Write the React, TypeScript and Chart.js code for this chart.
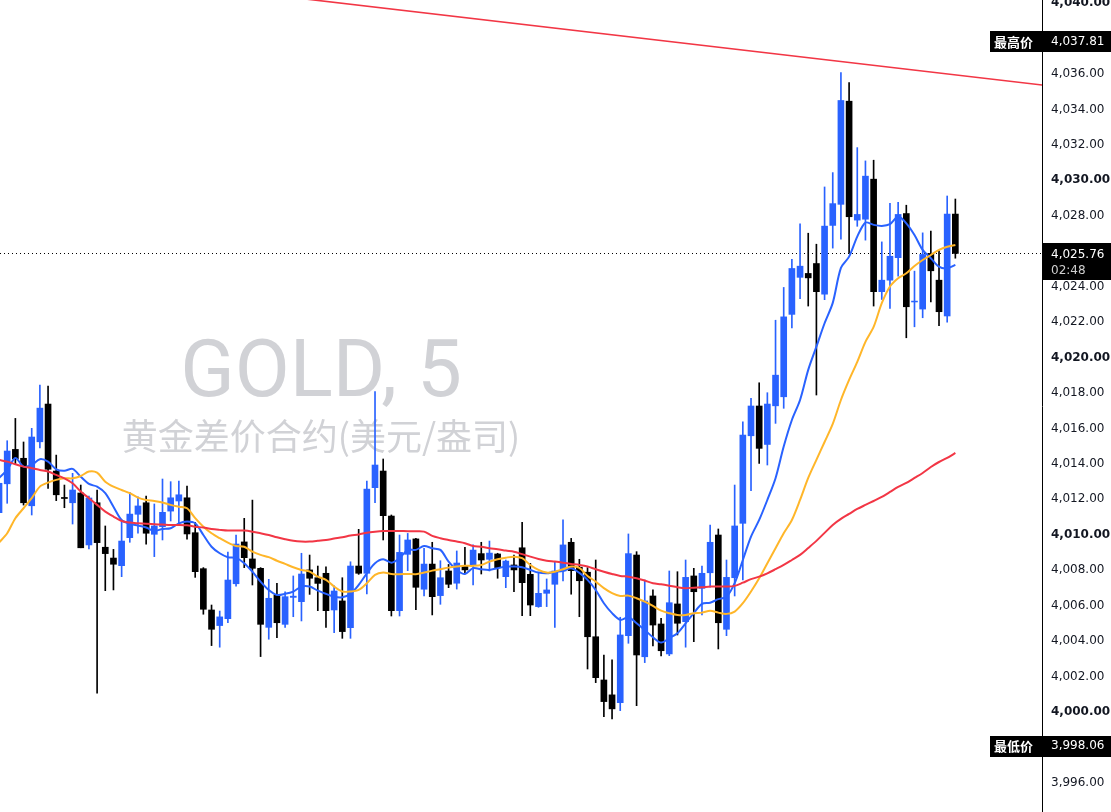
import React, { useEffect, useRef } from "react";
import { Chart, registerables } from "chart.js";

Chart.register(...registerables);

// ---- OHLC (5-minute candles, oldest first) ----
const opens = [
  4011.13, 4012.76, 4014.70, 4014.20, 4011.52, 4015.13, 4017.26, 4013.48, 4011.99, 4011.69,
  4012.24, 4009.31, 4011.69, 4009.18, 4008.57, 4008.14, 4009.72, 4011.04, 4011.69, 4009.91,
  4010.34, 4011.22, 4011.79, 4011.97, 4010.00, 4007.97, 4005.64, 4004.76, 4005.15, 4007.12,
  4009.48, 4008.52, 4007.99, 4004.66, 4006.49, 4004.83, 4006.35, 4006.11, 4007.90, 4007.46,
  4007.71, 4005.64, 4006.15, 4004.64, 4008.12, 4007.71, 4012.54, 4013.48, 4010.94, 4005.60,
  4008.78, 4009.65, 4006.81, 4008.23, 4006.45, 4007.84, 4007.15, 4008.12, 4008.14, 4008.82,
  4008.50, 4008.80, 4007.52, 4008.18, 4009.15, 4007.65, 4005.83, 4006.58, 4007.09, 4007.84,
  4009.46, 4008.05, 4007.77, 4004.13, 4001.69, 4000.85, 4000.41, 4004.19, 4008.74, 4003.00,
  4006.43, 4004.85, 4003.16, 4005.98, 4004.98, 4007.56, 4006.86, 4007.74, 4009.87, 4004.55,
  4007.46, 4010.53, 4015.47, 4017.15, 4014.98, 4017.16, 4017.67, 4022.32, 4024.41, 4024.63,
  4025.19, 4023.46, 4027.34, 4028.53, 4034.35, 4027.64, 4027.69, 4029.95, 4023.60, 4024.25,
  4025.52, 4028.01, 4023.02, 4022.62, 4025.76, 4024.25, 4022.23, 4027.98,
];
const highs = [
  4013.50, 4015.19, 4016.45, 4015.12, 4015.89, 4018.33, 4018.27, 4014.38, 4012.69, 4013.35,
  4012.69, 4012.07, 4012.41, 4010.38, 4009.06, 4010.62, 4012.28, 4012.03, 4012.07, 4011.62,
  4013.03, 4012.88, 4012.92, 4012.63, 4010.58, 4008.03, 4005.92, 4005.58, 4008.91, 4009.87,
  4010.81, 4011.84, 4008.03, 4007.37, 4007.15, 4006.67, 4007.56, 4008.84, 4008.74, 4008.12,
  4008.08, 4007.00, 4007.46, 4008.36, 4010.19, 4012.92, 4017.96, 4014.16, 4011.00, 4009.87,
  4009.96, 4009.68, 4009.12, 4009.46, 4008.42, 4008.21, 4008.97, 4009.18, 4009.31, 4009.46,
  4009.53, 4008.84, 4008.46, 4008.74, 4010.59, 4008.27, 4007.71, 4007.39, 4008.36, 4010.72,
  4009.68, 4008.50, 4008.03, 4008.46, 4003.10, 4002.82, 4005.23, 4009.93, 4008.93, 4007.33,
  4006.77, 4005.17, 4007.84, 4007.80, 4008.46, 4007.99, 4008.12, 4010.43, 4010.21, 4008.46,
  4012.69, 4016.26, 4017.58, 4018.46, 4017.90, 4021.99, 4023.84, 4025.42, 4027.43, 4026.90,
  4026.28, 4029.51, 4030.32, 4035.96, 4035.40, 4031.73, 4030.98, 4031.02, 4026.41, 4028.58,
  4028.64, 4028.48, 4024.76, 4026.92, 4027.02, 4025.91, 4029.00, 4028.83,
];
const lows = [
  4010.80, 4011.66, 4013.87, 4011.56, 4011.00, 4014.79, 4012.50, 4011.81, 4011.41, 4010.49,
  4009.15, 4009.08, 4000.94, 4006.73, 4006.77, 4007.52, 4009.46, 4009.97, 4009.35, 4008.65,
  4009.59, 4010.66, 4010.47, 4009.64, 4007.48, 4005.40, 4003.63, 4003.54, 4004.92, 4006.99,
  4008.03, 4007.05, 4003.01, 4003.99, 4004.08, 4004.66, 4005.26, 4005.02, 4006.52, 4005.60,
  4004.66, 4004.36, 4004.04, 4004.04, 4007.65, 4006.54, 4011.69, 4009.59, 4005.30, 4005.30,
  4007.86, 4005.66, 4006.43, 4005.36, 4005.96, 4006.90, 4006.82, 4007.67, 4007.05, 4007.67,
  4007.84, 4007.43, 4006.90, 4006.67, 4005.32, 4005.32, 4005.79, 4005.83, 4004.66, 4007.28,
  4006.53, 4005.26, 4002.31, 4001.54, 3999.62, 3999.49, 3999.96, 4003.76, 4000.24, 4002.67,
  4003.61, 4003.05, 4003.06, 4004.23, 4003.54, 4003.85, 4005.36, 4006.92, 4003.44, 4004.19,
  4006.43, 4007.33, 4012.37, 4013.91, 4013.82, 4016.17, 4017.02, 4021.56, 4023.20, 4022.79,
  4017.77, 4023.15, 4026.06, 4026.57, 4025.76, 4027.29, 4026.51, 4022.79, 4023.16, 4022.66,
  4024.48, 4021.00, 4021.62, 4022.13, 4023.03, 4021.68, 4021.88, 4025.49,
];
const closes = [
  4012.79, 4014.61, 4014.17, 4011.69, 4015.40, 4017.03, 4013.58, 4012.14, 4011.93, 4012.41,
  4009.15, 4011.96, 4009.44, 4008.82, 4008.22, 4009.53, 4011.05, 4011.51, 4009.97, 4010.38,
  4011.15, 4011.97, 4012.14, 4009.93, 4007.80, 4005.68, 4004.55, 4005.25, 4007.33, 4009.36,
  4008.59, 4007.99, 4004.83, 4006.30, 4004.92, 4006.39, 4006.42, 4007.67, 4007.43, 4007.14,
  4005.60, 4006.71, 4004.42, 4008.12, 4007.71, 4012.46, 4013.82, 4010.96, 4005.60, 4008.89,
  4009.59, 4006.92, 4008.23, 4006.39, 4007.46, 4007.09, 4008.29, 4007.90, 4009.02, 4008.46,
  4008.85, 4008.03, 4008.40, 4007.90, 4007.18, 4005.92, 4006.58, 4006.77, 4007.84, 4009.31,
  4007.86, 4007.29, 4004.13, 4001.82, 4000.47, 4000.06, 4004.23, 4008.82, 4003.10, 4006.15,
  4004.79, 4003.34, 4006.05, 4004.89, 4007.48, 4006.67, 4007.71, 4009.46, 4004.92, 4007.48,
  4010.38, 4015.51, 4017.15, 4014.76, 4017.26, 4018.89, 4022.18, 4024.91, 4025.04, 4024.38,
  4023.60, 4027.30, 4028.57, 4034.39, 4027.83, 4027.96, 4030.12, 4023.60, 4024.25, 4025.60,
  4027.96, 4022.75, 4023.07, 4025.70, 4024.78, 4022.47, 4027.98, 4025.76,
];

// ---- moving averages ----
const maFast = [
  4013.09, 4013.54, 4014.22, 4013.73, 4013.82, 4014.15, 4014.01, 4013.58, 4013.50, 4013.60,
  4013.16, 4012.75, 4012.60, 4012.23, 4011.47, 4010.72, 4010.50, 4010.40, 4010.29, 4010.10,
  4010.21, 4010.25, 4010.53, 4010.63, 4010.53, 4009.87, 4009.21, 4008.84, 4008.62, 4008.58,
  4008.28, 4007.80, 4007.24, 4006.77, 4006.49, 4006.55, 4006.68, 4006.96, 4006.96, 4006.73,
  4006.55, 4006.39, 4006.36, 4006.55, 4007.05, 4007.71, 4008.28, 4008.50, 4008.31, 4008.56,
  4009.03, 4009.03, 4009.25, 4009.12, 4009.03, 4008.37, 4007.90, 4007.67, 4008.00, 4007.94,
  4007.90, 4008.00, 4008.09, 4008.09, 4008.05, 4007.90, 4007.75, 4007.71, 4007.80, 4007.84,
  4008.00, 4007.73, 4007.34, 4006.77, 4006.02, 4005.46, 4005.08, 4005.23, 4004.89, 4004.51,
  4004.10, 4003.80, 4004.05, 4004.33, 4004.89, 4005.46, 4005.98, 4006.05, 4006.25, 4006.39,
  4007.15, 4008.46, 4009.78, 4010.72, 4011.85, 4013.07, 4014.86, 4016.36, 4017.49, 4019.19,
  4020.50, 4021.82, 4022.97, 4024.94, 4025.58, 4026.71, 4027.50, 4027.37, 4027.31, 4027.41,
  4027.84, 4027.46, 4026.80, 4025.96, 4025.49, 4025.01, 4024.92, 4025.11,
];
const maMid = [
  4009.44, 4009.97, 4010.82, 4011.38, 4011.95, 4012.60, 4012.83, 4012.98, 4013.07, 4013.07,
  4013.20, 4013.45, 4013.39, 4012.88, 4012.60, 4012.41, 4012.23, 4011.98, 4011.85, 4011.79,
  4011.70, 4011.57, 4011.47, 4011.38, 4010.82, 4010.34, 4009.97, 4009.69, 4009.44, 4009.25,
  4009.21, 4008.93, 4008.75, 4008.62, 4008.42, 4008.24, 4008.05, 4007.90, 4007.80, 4007.52,
  4007.34, 4006.96, 4006.68, 4006.68, 4006.77, 4007.15, 4007.62, 4007.75, 4007.67, 4007.66,
  4007.67, 4007.66, 4007.75, 4007.86, 4007.94, 4008.03, 4008.09, 4008.13, 4008.13, 4008.18,
  4008.37, 4008.50, 4008.59, 4008.65, 4008.56, 4008.18, 4007.90, 4007.75, 4007.80, 4007.94,
  4008.09, 4008.01, 4007.56, 4007.24, 4006.87, 4006.59, 4006.43, 4006.45, 4006.30, 4006.11,
  4005.87, 4005.60, 4005.46, 4005.36, 4005.36, 4005.46, 4005.49, 4005.60, 4005.49, 4005.42,
  4005.55, 4006.02, 4006.68, 4007.43, 4008.28, 4009.12, 4009.97, 4010.72, 4011.85, 4013.09,
  4014.11, 4015.12, 4016.14, 4017.49, 4018.62, 4019.64, 4020.77, 4021.61, 4022.95, 4023.89,
  4024.36, 4024.64, 4025.05, 4025.39, 4025.67, 4025.96, 4026.14, 4026.24,
];
const maSlow = [
  4014.11, 4014.01, 4013.86, 4013.73, 4013.64, 4013.54, 4013.45, 4013.26, 4013.07, 4012.79,
  4012.32, 4011.95, 4011.57, 4011.19, 4010.91, 4010.66, 4010.57, 4010.53, 4010.50, 4010.48,
  4010.46, 4010.44, 4010.44, 4010.42, 4010.34, 4010.29, 4010.21, 4010.16, 4010.12, 4010.12,
  4010.12, 4010.06, 4009.97, 4009.87, 4009.74, 4009.63, 4009.54, 4009.50, 4009.50, 4009.54,
  4009.59, 4009.67, 4009.74, 4009.84, 4009.90, 4010.00, 4010.06, 4010.10, 4010.10, 4010.10,
  4010.08, 4010.08, 4010.06, 4009.82, 4009.69, 4009.59, 4009.50, 4009.41, 4009.25, 4009.21,
  4009.12, 4009.07, 4008.99, 4008.93, 4008.79, 4008.65, 4008.52, 4008.42, 4008.37, 4008.31,
  4008.24, 4008.18, 4008.09, 4007.94, 4007.80, 4007.67, 4007.56, 4007.52, 4007.43, 4007.30,
  4007.15, 4007.09, 4007.01, 4006.92, 4006.87, 4006.90, 4006.92, 4006.96, 4006.96, 4006.96,
  4007.00, 4007.18, 4007.38, 4007.52, 4007.71, 4007.94, 4008.18, 4008.46, 4008.75, 4009.14,
  4009.54, 4009.99, 4010.44, 4010.78, 4011.06, 4011.34, 4011.57, 4011.79, 4012.02, 4012.30,
  4012.58, 4012.81, 4013.09, 4013.37, 4013.71, 4013.99, 4014.22, 4014.50,
];

// ---- trend line (two anchor points: candle index, price) ----
const trendIdx = [30, 128];
const trendPrice = [4040.52, 4035.24];

// ---- axis / labels ----
const priceTicks = [
  3994, 3996, 3998, 4000, 4002, 4004, 4006, 4008, 4010, 4012, 4014, 4016,
  4018, 4020, 4022, 4024, 4026, 4028, 4030, 4032, 4034, 4036, 4038, 4040,
];
const highLabel = { text: "最高价", value: 4037.81 };
const lowLabel = { text: "最低价", value: 3998.06 };
const lastPrice = 4025.76;
const countdown = "02:48";
const watermarkTitle = "GOLD, 5";
const watermarkSub = "黄金差价合约(美元/盎司)";

const BLUE = "#2962ff";
const BLACK = "#000000";

const fmt = (v: number) =>
  v.toLocaleString("en-US", { minimumFractionDigits: 2, maximumFractionDigits: 2 });

const overlayPlugin = {
  id: "tvOverlay",
  beforeDatasetsDraw(chart: any) {
    const { ctx, chartArea } = chart;
    const ys = chart.scales.y;
    ctx.save();
    // watermark
    ctx.fillStyle = "#d1d2d6";
    ctx.textAlign = "center";
    ctx.textBaseline = "alphabetic";
    ctx.font = '80px Roboto, "Liberation Sans", sans-serif';
    ctx.fillText(watermarkTitle, 321, 396);
    ctx.font = '36px "Noto Sans CJK SC", sans-serif';
    ctx.textBaseline = "middle";
    ctx.fillText(watermarkSub, 321, 436);
    // dotted last-price line
    const py = Math.round(ys.getPixelForValue(lastPrice)) + 0.5;
    ctx.strokeStyle = "#000";
    ctx.lineWidth = 1;
    ctx.setLineDash([1, 3]);
    ctx.beginPath();
    ctx.moveTo(chartArea.left, py);
    ctx.lineTo(chartArea.right, py);
    ctx.stroke();
    ctx.restore();
  },
  afterDraw(chart: any) {
    const { ctx, chartArea } = chart;
    const ys = chart.scales.y;
    const W = chart.width;
    ctx.save();
    const tagBox = (lbl: { text: string; value: number }) => {
      const cy = ys.getPixelForValue(lbl.value);
      ctx.fillStyle = "#000";
      ctx.fillRect(990, Math.round(cy - 8.5), W - 990, 21);
      ctx.fillStyle = "#fff";
      ctx.textBaseline = "middle";
      ctx.textAlign = "left";
      ctx.font = 'bold 13px "Noto Sans CJK SC", sans-serif';
      ctx.fillText(lbl.text, 994, cy + 2);
      ctx.font = '12px "DejaVu Sans", sans-serif';
      ctx.fillText(fmt(lbl.value), chartArea.right + 9, cy + 2);
    };
    tagBox(highLabel);
    tagBox(lowLabel);
    // last price box
    const cy = ys.getPixelForValue(lastPrice);
    ctx.fillStyle = "#000";
    ctx.fillRect(chartArea.right, Math.round(cy - 10.5), W - chartArea.right, 37);
    ctx.textAlign = "left";
    ctx.textBaseline = "middle";
    ctx.font = '12px "DejaVu Sans", sans-serif';
    ctx.fillStyle = "#fff";
    ctx.fillText(fmt(lastPrice), chartArea.right + 9, cy + 1.5);
    ctx.fillStyle = "#cfcfcf";
    ctx.fillText(countdown, chartArea.right + 9, cy + 17.5);
    ctx.restore();
  },
};

export default function App() {
  const ref = useRef<HTMLCanvasElement>(null);
  useEffect(() => {
    document.body.style.margin = "0";
    if (!ref.current) return;
    const idx = opens.map((_, i) => i);
    const colors = idx.map((i) => (closes[i] >= opens[i] ? BLUE : BLACK));
    const lineDs = (label: string, arr: number[], color: string) => ({
      type: "line" as const,
      label,
      data: idx.map((i) => ({ x: i, y: arr[i] })),
      borderColor: color,
      borderWidth: 2,
      pointRadius: 0,
      tension: 0.3,
      order: 0,
    });
    const chart = new Chart(ref.current, {
      type: "bar",
      data: {
        datasets: [
          {
            type: "line",
            label: "trend",
            data: trendIdx.map((x, k) => ({ x, y: trendPrice[k] })),
            borderColor: "#f23645",
            borderWidth: 1.6,
            pointRadius: 0,
            order: 0,
          } as any,
          lineDs("MA slow", maSlow, "#f23645"),
          lineDs("MA mid", maMid, "#ffb629"),
          lineDs("MA fast", maFast, "#2962ff"),
          {
            type: "bar",
            label: "body",
            data: idx.map((i) => ({ x: i, y: [opens[i], closes[i]] })),
            backgroundColor: colors,
            borderWidth: 0,
            barThickness: 6,
            grouped: false,
            order: 1,
          } as any,
          {
            type: "bar",
            label: "wick",
            data: idx.map((i) => ({ x: i, y: [lows[i], highs[i]] })),
            backgroundColor: colors,
            borderWidth: 0,
            barThickness: 1,
            grouped: false,
            order: 2,
          } as any,
        ],
      },
      options: {
        responsive: false,
        maintainAspectRatio: false,
        animation: false,
        layout: { padding: 0 },
        plugins: {
          legend: { display: false },
          tooltip: { enabled: false },
          title: { display: false },
        },
        scales: {
          x: {
            type: "linear",
            min: 0.12,
            max: 127.6,
            offset: false,
            display: false,
          },
          y: {
            position: "right",
            min: 3994.24,
            max: 4040.06,
            afterFit: (s: any) => {
              s.width = 69;
              s.paddingTop = 0;
              s.paddingBottom = 0;
            },
            afterBuildTicks: (s: any) => {
              s.ticks = priceTicks.map((v) => ({ value: v }));
            },
            grid: { display: false, drawTicks: false },
            border: { display: true, color: "#000", width: 1 },
            ticks: {
              autoSkip: false,
              padding: 9,
              labelOffset: 2,
              color: "#131722",
              font: (c: any) => ({
                family: '"DejaVu Sans", sans-serif',
                size: 12,
                weight: c.tick && c.tick.value % 10 === 0 ? "bold" : "normal",
              }),
              callback: (v: any) => fmt(Number(v)),
            },
          },
        },
      } as any,
      plugins: [overlayPlugin],
    });
    return () => chart.destroy();
  }, []);
  return (
    <div
      style={{
        position: "fixed",
        left: 0,
        top: 0,
        width: 1111,
        height: 812,
        background: "#fff",
      }}
    >
      <canvas ref={ref} width={1111} height={812} style={{ display: "block" }} />
    </div>
  );
}
